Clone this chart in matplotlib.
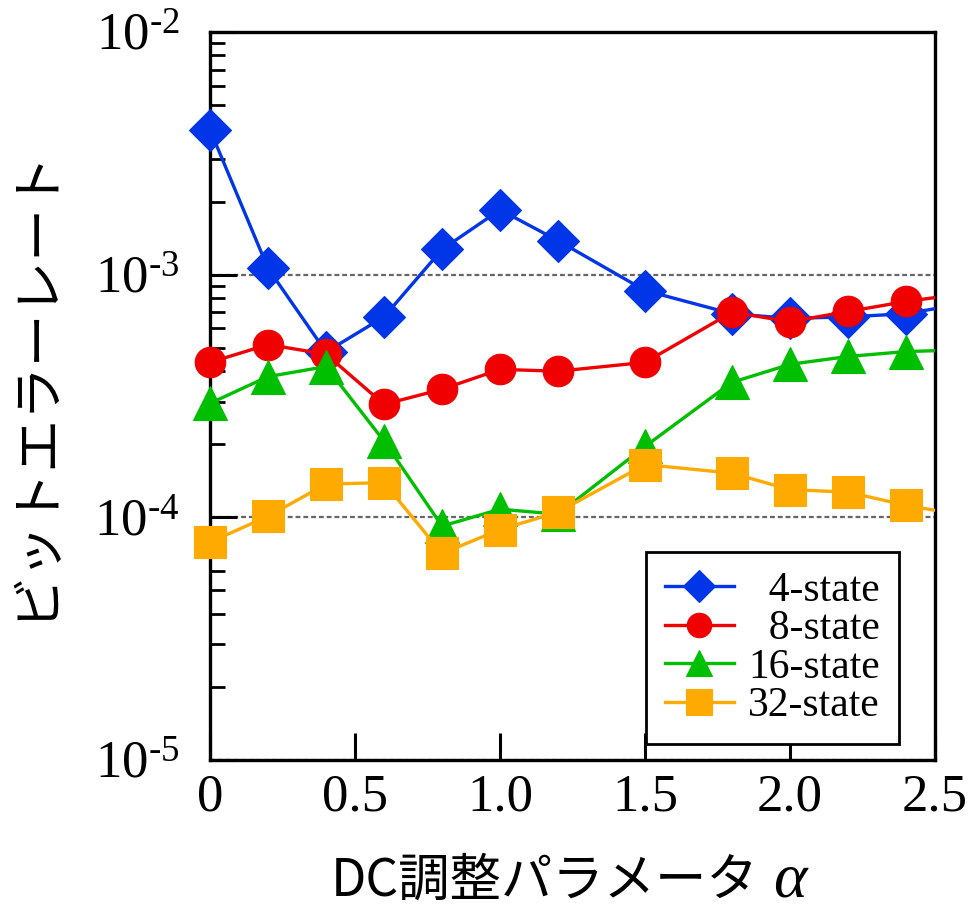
import numpy as np
import matplotlib
matplotlib.use("Agg")
import matplotlib.pyplot as plt
from matplotlib.ticker import FuncFormatter, LogLocator, NullFormatter, NullLocator

plt.rcParams["font.family"] = ["Liberation Serif", "DejaVu Serif"]
plt.rcParams["mathtext.fontset"] = "custom"
plt.rcParams["mathtext.rm"] = "Liberation Serif"
plt.rcParams["mathtext.it"] = "Liberation Serif:italic"

# DC adjustment parameter (last point lies just past the right edge)
alpha = [0, 0.2, 0.4, 0.6, 0.8, 1.0, 1.2, 1.5, 1.8, 2.0, 2.2, 2.4, 2.6]

# bit error rate for each constellation size
ber_4 = [3.95e-3, 1.06e-3, 4.8e-4, 6.7e-4, 1.27e-3, 1.85e-3, 1.38e-3,
         8.6e-4, 6.9e-4, 6.6e-4, 6.7e-4, 6.9e-4, 7.6e-4]
ber_8 = [4.35e-4, 5.15e-4, 4.7e-4, 2.92e-4, 3.37e-4, 4.07e-4, 4.0e-4,
         4.35e-4, 7.0e-4, 6.4e-4, 7.05e-4, 7.75e-4, 8.35e-4]
ber_16 = [2.95e-4, 3.8e-4, 4.18e-4, 2.06e-4, 9.2e-5, 1.08e-4, 1.03e-4,
          1.96e-4, 3.6e-4, 4.27e-4, 4.6e-4, 4.82e-4, 4.9e-4]
ber_32 = [7.9e-5, 1.01e-4, 1.37e-4, 1.39e-4, 7.1e-5, 8.9e-5, 1.05e-4,
          1.65e-4, 1.52e-4, 1.30e-4, 1.27e-4, 1.12e-4, 1.02e-4]

labels = ["  4-state", "  8-state", "16-state", "32-state"]
colors = ["#0035e8", "#f00000", "#00bf00", "#ffaa00"]
markers = ["D", "o", "^", "s"]
sizes = [21, 22, 24, 23]

x_ticks = [0, 0.5, 1.0, 1.5, 2.0, 2.5]
x_ticklabels = ["0", "0.5", "1.0", "1.5", "2.0", "2.5"]

fig = plt.figure(figsize=(9.68, 9.13), dpi=100)
ax = fig.add_axes([0.217, 0.1676, 0.749, 0.7974])

x = np.array(alpha)
inside = x <= 2.5
handles = []
for i, (vals, lab, col, mk, ms) in enumerate(
        zip([ber_4, ber_8, ber_16, ber_32], labels, colors, markers, sizes)):
    y = np.array(vals)
    z = 3 + i
    ax.plot(x, y, color=col, lw=2.4, zorder=z)
    ax.plot(x[inside], y[inside], ls="none", marker=mk, ms=ms, color=col,
            mec=col, mew=0.8, clip_on=False, zorder=z)
    h, = ax.plot([], [], color=col, lw=2.4, marker=mk, ms=ms * 0.8,
                 mec=col, mew=0.8, label=lab)
    handles.append(h)

ax.set_yscale("log")
ax.set_xlim(0, 2.5)
ax.set_ylim(1e-5, 1e-2)


def decade_label(v, _):
    # short hyphen in the exponent instead of the wide math minus
    return "$\\mathregular{10^{\u2010%d}}$" % abs(round(np.log10(v)))


ax.set_xticks(x_ticks, labels=x_ticklabels)
ax.xaxis.set_minor_locator(NullLocator())
ax.yaxis.set_major_locator(LogLocator(base=10))
ax.yaxis.set_minor_locator(LogLocator(base=10, subs=np.arange(2, 10)))
ax.yaxis.set_minor_formatter(NullFormatter())
ax.yaxis.set_major_formatter(FuncFormatter(decade_label))

ax.tick_params(which="both", direction="in", top=False, right=False,
               colors="black")
ax.tick_params(which="major", length=19.5, width=2.2, labelsize=38)
ax.tick_params(axis="x", which="major", pad=10)
ax.tick_params(axis="y", which="major", pad=22)
ax.tick_params(which="minor", length=11, width=2.0)

for sp in ax.spines.values():
    sp.set_linewidth(2.4)

ax.grid(axis="y", which="major", color="#666666", lw=1.6,
        linestyle=(0, (2.2, 1.3)))
ax.set_axisbelow(True)

leg = ax.legend(handles=handles, loc="lower right",
                bbox_to_anchor=(0.95, 0.022), borderaxespad=0,
                fontsize=30, handlelength=1.65, handletextpad=0.35,
                labelspacing=0.0, borderpad=0.45, fancybox=False,
                framealpha=1)
leg.get_frame().set_edgecolor("black")
leg.get_frame().set_linewidth(2.0)
leg.set_zorder(10)

ax.set_ylabel("ビットエラーレート", fontsize=38,
              family=["Noto Sans CJK JP", "DejaVu Sans"])
ax.yaxis.set_label_coords(-0.207, 0.518)
ax.set_xlabel("DC調整パラメータ", fontsize=37,
              family=["Noto Sans CJK JP", "DejaVu Sans"])
ax.xaxis.set_label_coords(0.462, -0.130)
ax.annotate(r"$\alpha$", xy=(1, 0.5), xycoords=ax.xaxis.label,
            xytext=(10, 0), textcoords="offset points",
            fontsize=46, va="center", ha="left")

fig.savefig("out.png", dpi=100)
